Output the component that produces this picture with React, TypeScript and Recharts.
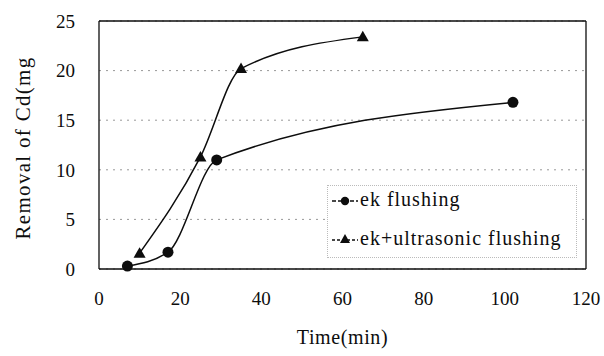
import React from "react";
import { LineChart, Line, XAxis, YAxis, CartesianGrid, ReferenceLine } from "recharts";

const ekTime = [7, 17, 29, 102];
const ekRemoval = [0.3, 1.7, 11.0, 16.8];
const usTime = [10, 25, 35, 65];
const usRemoval = [1.6, 11.3, 20.2, 23.4];
const xTicks = [0, 20, 40, 60, 80, 100, 120];
const yTicks = [0, 5, 10, 15, 20, 25];
const seriesNames = ["ek flushing", "ek+ultrasonic flushing"];

const ekData = ekTime.map((t, i) => ({ t, v: ekRemoval[i] }));
const usData = usTime.map((t, i) => ({ t, v: usRemoval[i] }));

const FONT = "'Liberation Serif', 'Times New Roman', serif";
const INK = "#0d0d0d";

const Circle = (props: any) => {
  const { cx, cy } = props;
  if (cx == null || cy == null) return null;
  return <circle cx={cx} cy={cy} r={5.5} fill={INK} stroke="none" />;
};

const Triangle = (props: any) => {
  const { cx, cy } = props;
  if (cx == null || cy == null) return null;
  const s = 6;
  return (
    <polygon
      points={`${cx},${cy - s} ${cx - s},${cy + s * 0.75} ${cx + s},${cy + s * 0.75}`}
      fill={INK}
      stroke="none"
    />
  );
};

const LegendBox = () => (
  <div
    style={{
      position: "absolute",
      left: 327,
      top: 185,
      fontFamily: FONT,
      fontSize: 20,
      letterSpacing: 1,
      color: INK,
      border: "1px dotted #bbb",
      background: "#fff",
      width: 250,
      height: 73,
      boxSizing: "border-box",
      paddingLeft: 3,
    }}
  >
    {seriesNames.map((name, i) => (
      <div key={name} style={{ display: "flex", alignItems: "center", height: 30, marginTop: i === 0 ? -2 : 9 }}>
        <svg width={28} height={16} style={{ marginRight: 1 }}>
          <line x1={1} y1={10} x2={27} y2={10} stroke={INK} strokeWidth={1.3} strokeDasharray={i === 0 ? "4 2" : "3 2"} />
          {i === 0 ? (
            <circle cx={14} cy={10} r={4.2} fill={INK} />
          ) : (
            <polygon points="14,4 9,13 19,13" fill={INK} />
          )}
        </svg>
        <span>{name}</span>
      </div>
    ))}
  </div>
);

export default function App() {
  return (
    <div style={{ position: "absolute", left: 0, top: 0, width: 604, height: 356, background: "#fff", fontFamily: FONT }}>
      <LineChart width={604} height={356} margin={{ top: 21, right: 18, bottom: 30, left: 0 }}>
        <CartesianGrid vertical={false} stroke="#999" strokeDasharray="2 5" />
        <XAxis
          type="number"
          dataKey="t"
          domain={[0, 120]}
          ticks={xTicks}
          tickLine={false}
          tickSize={0}
          tickMargin={23}
          height={57}
          axisLine={{ stroke: INK, strokeWidth: 1.3 }}
          tick={{ fill: INK, fontSize: 19, fontFamily: FONT }}
          label={{ value: "Time(min)", position: "insideBottom", offset: -18, fill: INK, fontSize: 20, fontFamily: FONT, letterSpacing: 0.6 }}
        />
        <YAxis
          type="number"
          domain={[0, 25]}
          ticks={yTicks}
          width={99}
          tickLine={false}
          tickSize={0}
          tickMargin={24}
          axisLine={{ stroke: INK, strokeWidth: 1.3 }}
          tick={{ fill: INK, fontSize: 19, fontFamily: FONT }}
          label={{ value: "Removal of Cd(mg", angle: -90, position: "center", dx: -27, dy: 3, fill: INK, fontSize: 21, fontFamily: FONT, letterSpacing: 1.3 }}
        />
        <ReferenceLine y={25} stroke={INK} strokeWidth={1.3} />
        <ReferenceLine x={120} stroke={INK} strokeWidth={1.3} />
        <Line
          data={ekData}
          dataKey="v"
          name={seriesNames[0]}
          type="monotone"
          stroke={INK}
          strokeWidth={1.5}
          dot={<Circle />}
          activeDot={false}
          isAnimationActive={false}
        />
        <Line
          data={usData}
          dataKey="v"
          name={seriesNames[1]}
          type="monotone"
          stroke={INK}
          strokeWidth={1.5}
          dot={<Triangle />}
          activeDot={false}
          isAnimationActive={false}
        />
      </LineChart>
      <LegendBox />
    </div>
  );
}
